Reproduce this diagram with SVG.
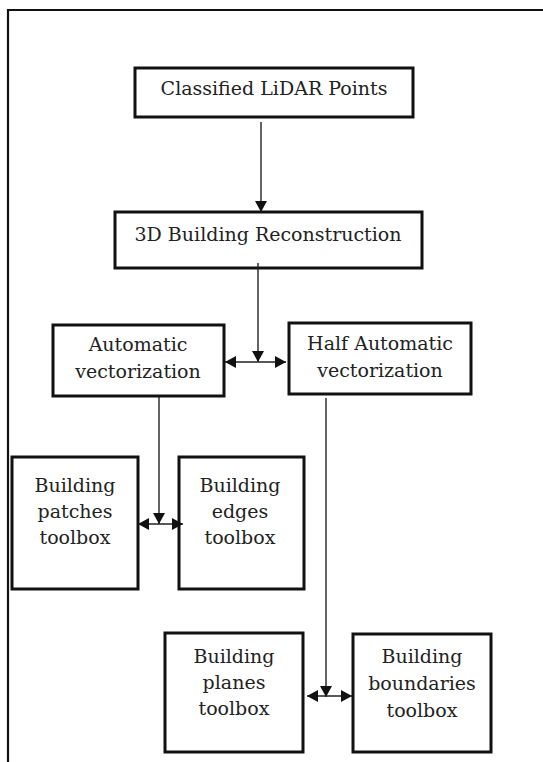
<svg xmlns="http://www.w3.org/2000/svg" width="543" height="762" viewBox="0 0 543 762">
<style>
.box{fill:#fff;stroke:#111;stroke-width:3}
.t{font-family:'DejaVu Serif',serif;font-size:19px;fill:#222;text-anchor:middle}
.c{stroke:#222;stroke-width:1.4;fill:none}
</style>
<defs>
<marker id="ah" viewBox="0 0 11 12" refX="11" refY="6" markerWidth="11" markerHeight="12" markerUnits="userSpaceOnUse" orient="auto-start-reverse">
<path d="M0,0 L11,6 L0,12 Z" fill="#111"/>
</marker>
</defs>
<rect x="0" y="0" width="543" height="762" fill="#fff"/>
<g id="frame"><path d="M8,762 V10 H543" fill="none" stroke="#111" stroke-width="2.2"/></g>
<g id="n1"><rect class="box" x="135" y="68" width="278" height="49"/><text class="t" x="274" y="95">Classified LiDAR Points</text></g>
<g id="n2"><rect class="box" x="115" y="212" width="307" height="56"/><text class="t" x="268" y="241">3D Building Reconstruction</text></g>
<g id="n3"><rect class="box" x="53" y="325" width="171" height="71"/><text class="t" x="138" y="351">Automatic</text><text class="t" x="138" y="378">vectorization</text></g>
<g id="n4"><rect class="box" x="289" y="323" width="182" height="71"/><text class="t" x="380" y="350">Half Automatic</text><text class="t" x="380" y="377">vectorization</text></g>
<g id="n5"><rect class="box" x="12" y="457" width="126" height="132"/><text class="t" x="75" y="492">Building</text><text class="t" x="75" y="518">patches</text><text class="t" x="75" y="544">toolbox</text></g>
<g id="n6"><rect class="box" x="179" y="457" width="125" height="132"/><text class="t" x="240" y="492">Building</text><text class="t" x="240" y="518">edges</text><text class="t" x="240" y="544">toolbox</text></g>
<g id="n7"><rect class="box" x="165" y="633" width="138" height="119"/><text class="t" x="234" y="663">Building</text><text class="t" x="234" y="689">planes</text><text class="t" x="234" y="715">toolbox</text></g>
<g id="n8"><rect class="box" x="353" y="634" width="138" height="118"/><text class="t" x="422" y="663">Building</text><text class="t" x="422" y="690">boundaries</text><text class="t" x="422" y="717">toolbox</text></g>
<g id="connectors">
<path class="c" d="M261,122 V212" marker-end="url(#ah)"/>
<path class="c" d="M258,263 V362" marker-end="url(#ah)"/>
<path class="c" d="M225,362 H286" marker-start="url(#ah)" marker-end="url(#ah)"/>
<path class="c" d="M159,397 V524" marker-end="url(#ah)"/>
<path class="c" d="M138,524 H183" marker-start="url(#ah)" marker-end="url(#ah)"/>
<path class="c" d="M326,398 V697" marker-end="url(#ah)"/>
<path class="c" d="M307,696 H352" marker-start="url(#ah)" marker-end="url(#ah)"/>
</g>
</svg>
